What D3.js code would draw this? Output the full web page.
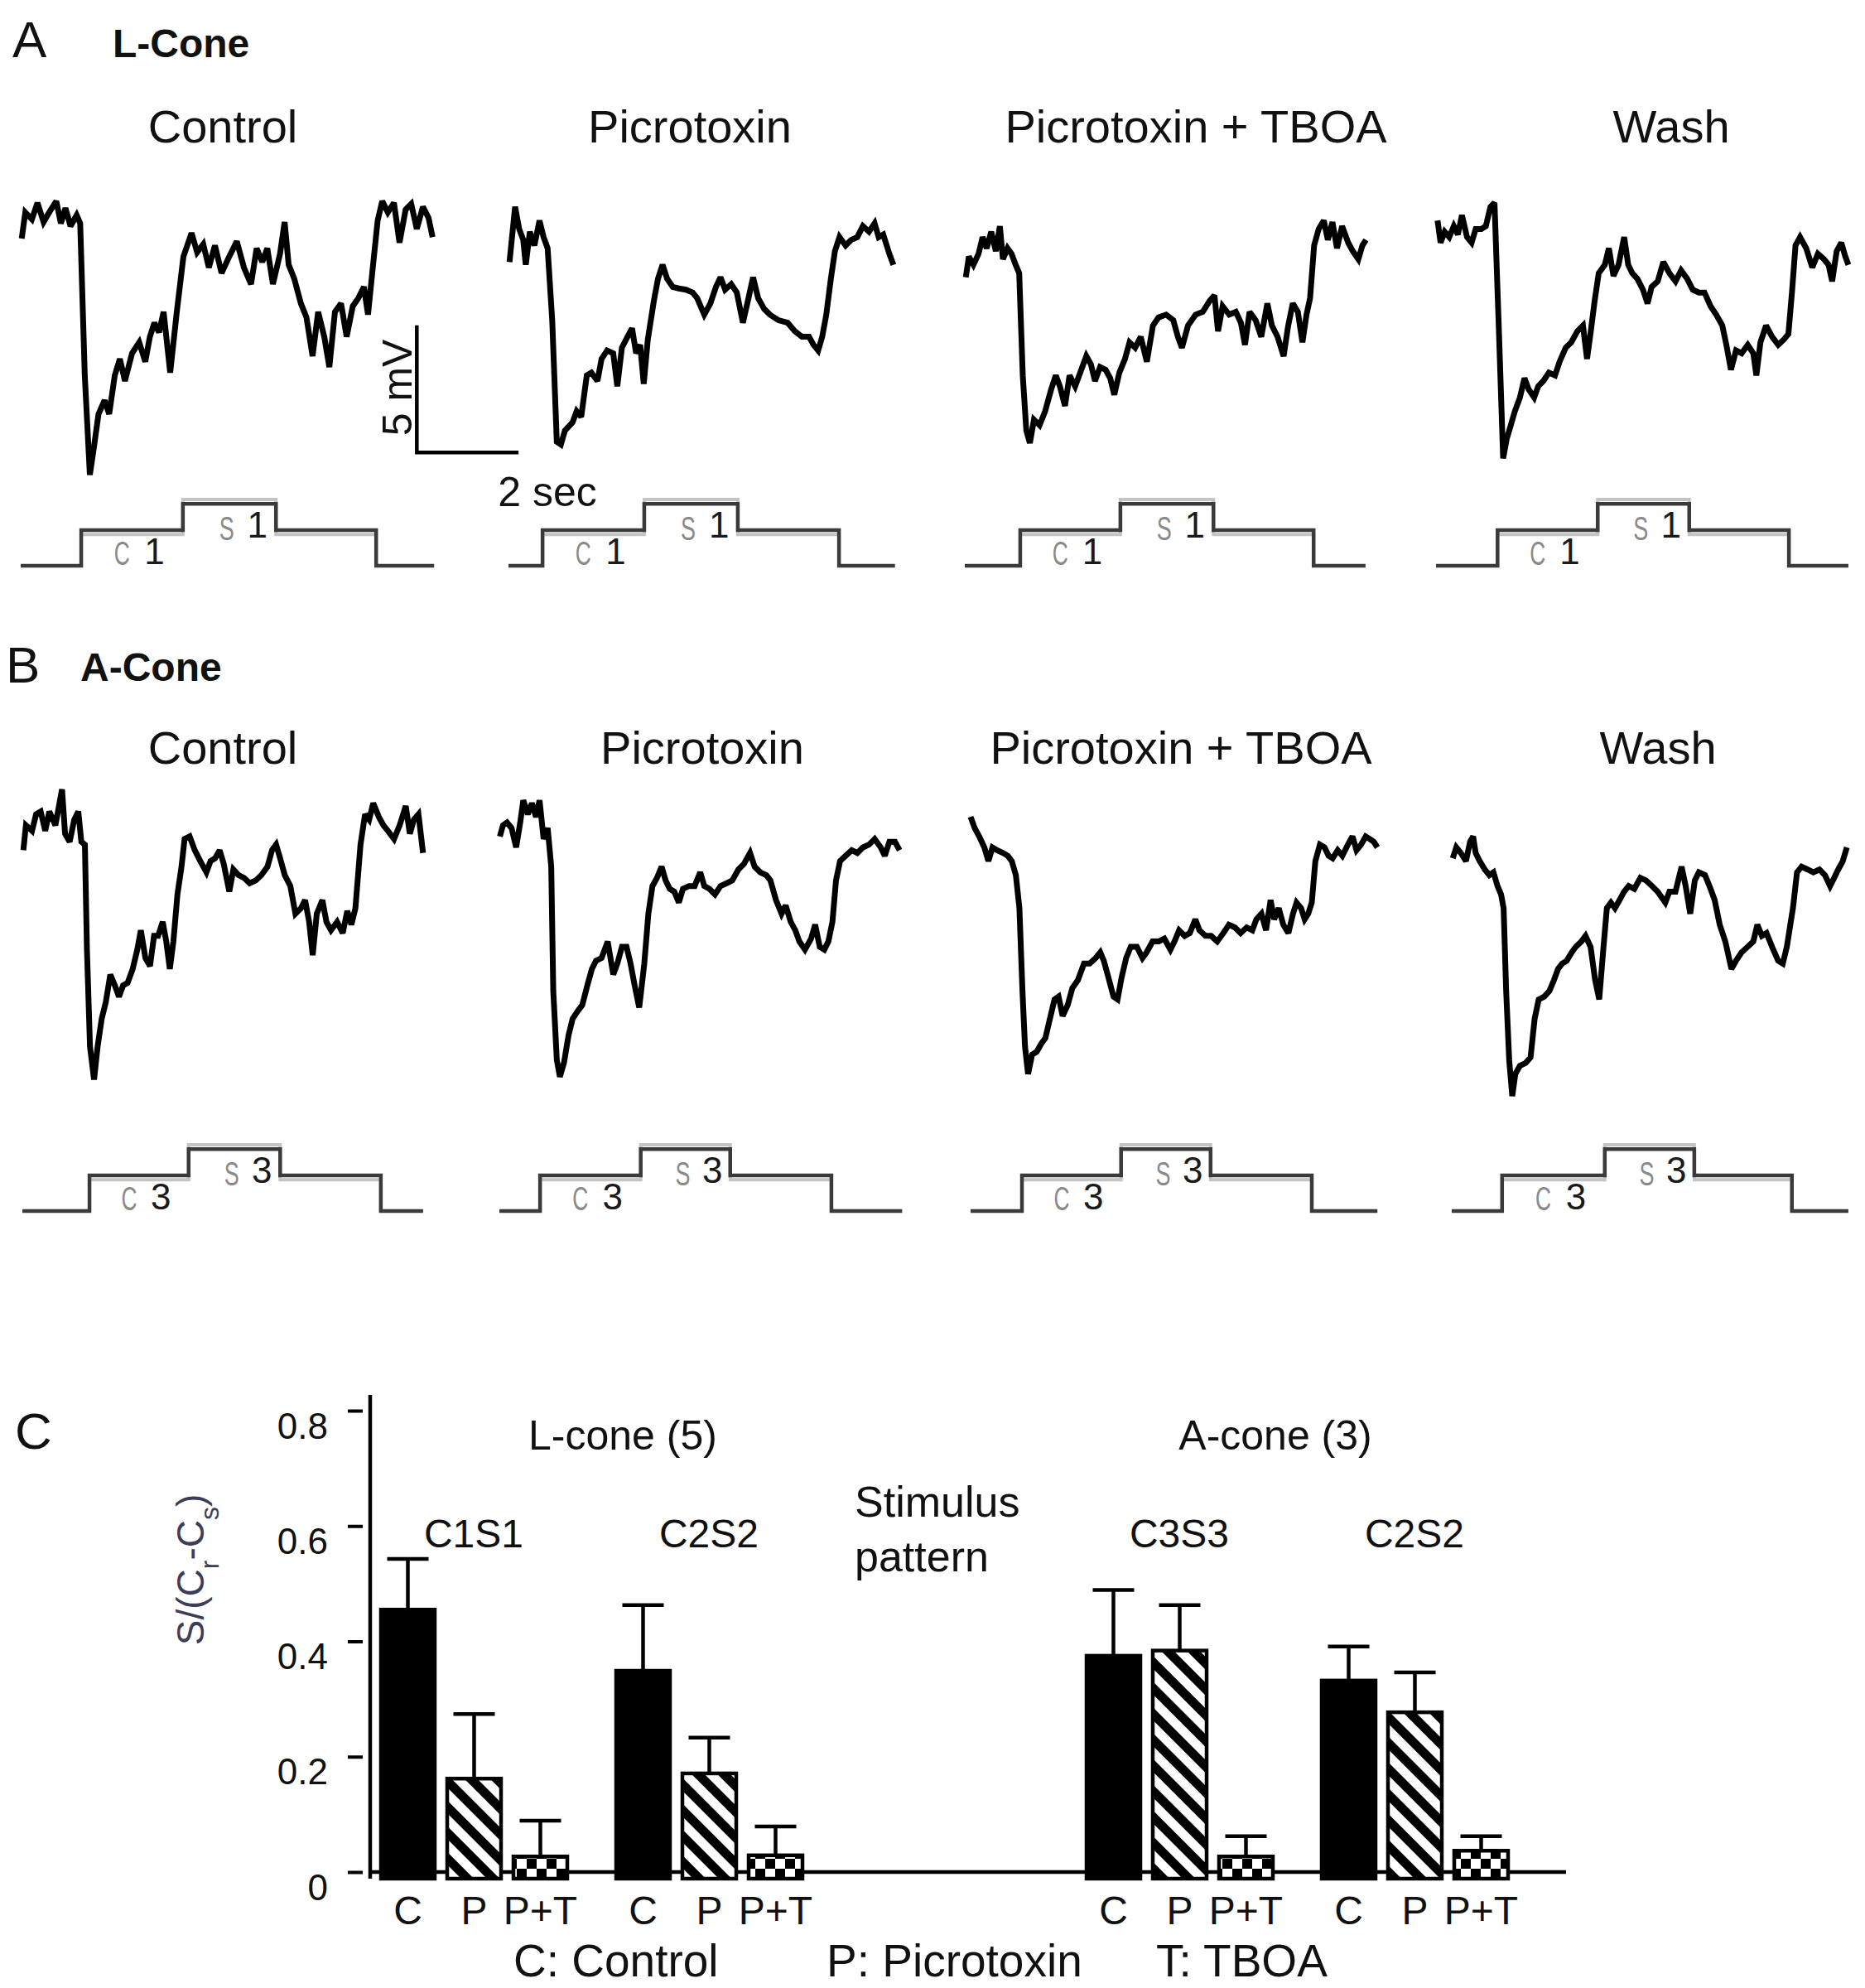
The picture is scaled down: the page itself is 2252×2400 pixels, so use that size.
<!DOCTYPE html>
<html><head><meta charset="utf-8">
<script src="https://cdn.jsdelivr.net/npm/d3@7"></script>
<style>
html,body{margin:0;padding:0;background:#fff;}
svg{display:block;}
text{font-family:"Liberation Sans", Arial, sans-serif;}
</style></head><body>
<svg id="chart" width="2252" height="2400"></svg>
<script>
// ---------------- DATA ----------------
const conditionTitles = ["Control", "Picrotoxin", "Picrotoxin + TBOA", "Wash"];

// Voltage traces: [time (s), membrane potential (mV, relative)]
const lConeControl = [[0.02,9.51],[0.09,10.54],[0.22,10.27],[0.33,10.92],[0.45,10.16],[0.56,10.54],[0.70,10.98],[0.79,10.11],[0.88,10.71],[0.98,10.0],[1.10,10.43],[1.17,10.11],[1.26,4.13],[1.36,0.22],[1.44,1.30],[1.53,2.61],[1.65,3.15],[1.74,2.61],[1.85,4.13],[1.95,4.78],[2.05,3.91],[2.19,5.0],[2.33,5.43],[2.45,4.67],[2.54,5.65],[2.63,6.20],[2.72,5.82],[2.81,6.63],[2.94,4.24],[3.07,6.63],[3.20,8.80],[3.36,9.73],[3.47,8.97],[3.59,9.29],[3.70,8.37],[3.82,9.24],[3.95,8.15],[4.10,8.80],[4.25,9.40],[4.39,8.37],[4.53,7.72],[4.64,9.13],[4.75,8.59],[4.85,9.13],[4.96,7.72],[5.10,8.91],[5.19,10.16],[5.27,8.48],[5.38,7.93],[5.51,6.96],[5.62,6.41],[5.74,4.89],[5.85,6.63],[5.97,5.65],[6.07,4.46],[6.18,6.63],[6.30,6.96],[6.41,5.65],[6.53,6.85],[6.64,7.17],[6.75,7.61],[6.83,6.52],[6.93,8.48],[7.02,10.22],[7.11,10.98],[7.22,10.54],[7.34,10.92],[7.45,9.35],[7.57,10.65],[7.68,10.87],[7.79,9.89],[7.91,10.76],[8.02,10.33],[8.10,9.57]];
const lConePicrotoxin = [[0.02,8.59],[0.13,10.76],[0.21,9.89],[0.29,9.46],[0.34,8.48],[0.42,9.78],[0.51,9.24],[0.61,10.22],[0.69,9.57],[0.77,9.13],[0.86,6.30],[0.95,1.52],[1.03,1.41],[1.11,1.96],[1.26,2.28],[1.34,2.72],[1.43,2.50],[1.54,4.13],[1.63,4.24],[1.75,3.91],[1.83,4.78],[1.94,5.11],[2.06,5.0],[2.14,3.70],[2.23,5.22],[2.34,5.65],[2.43,5.98],[2.51,5.0],[2.59,5.33],[2.66,3.80],[2.74,5.54],[2.86,7.07],[2.94,7.93],[3.03,8.48],[3.12,7.93],[3.23,7.61],[3.35,7.55],[3.49,7.50],[3.62,7.39],[3.71,7.17],[3.85,6.52],[3.97,6.96],[4.08,7.61],[4.17,7.99],[4.26,7.50],[4.38,7.72],[4.49,7.39],[4.61,6.20],[4.72,7.17],[4.81,7.99],[4.91,7.17],[5.03,6.74],[5.14,6.52],[5.31,6.30],[5.49,6.20],[5.63,5.87],[5.77,5.65],[5.91,5.65],[6.0,5.33],[6.09,5.11],[6.17,5.65],[6.25,6.52],[6.34,7.93],[6.42,9.02],[6.51,9.57],[6.63,9.24],[6.74,9.46],[6.86,9.57],[6.97,10.0],[7.09,9.78],[7.20,10.11],[7.28,9.57],[7.37,9.67],[7.49,8.91],[7.57,8.48]];
const lConePicroTBOA = [[0.02,7.99],[0.08,8.80],[0.17,8.48],[0.27,8.91],[0.35,9.57],[0.43,9.13],[0.52,9.78],[0.61,9.02],[0.69,10.0],[0.75,8.70],[0.84,9.13],[0.92,8.91],[1.00,8.48],[1.07,8.15],[1.14,4.13],[1.21,1.96],[1.28,1.47],[1.36,2.39],[1.47,2.17],[1.58,2.72],[1.70,3.59],[1.79,4.13],[1.87,3.70],[1.97,2.93],[2.06,4.13],[2.17,3.70],[2.29,4.35],[2.39,4.89],[2.48,4.57],[2.56,3.91],[2.66,4.46],[2.77,4.35],[2.86,4.02],[2.94,3.37],[3.04,4.24],[3.15,4.78],[3.24,5.43],[3.35,5.22],[3.46,5.65],[3.58,4.67],[3.70,6.09],[3.81,6.41],[3.96,6.52],[4.10,6.30],[4.19,5.65],[4.27,5.22],[4.39,6.09],[4.54,6.52],[4.68,6.63],[4.82,7.07],[4.91,7.28],[4.98,5.87],[5.07,6.85],[5.20,6.52],[5.33,6.63],[5.43,6.20],[5.51,5.33],[5.60,6.63],[5.72,6.30],[5.83,5.65],[5.95,6.96],[6.04,6.09],[6.15,5.65],[6.27,4.89],[6.36,6.09],[6.45,6.96],[6.55,6.63],[6.64,5.43],[6.72,6.52],[6.79,7.17],[6.87,9.24],[6.96,9.89],[7.06,10.22],[7.14,9.46],[7.23,10.16],[7.32,9.13],[7.42,10.0],[7.54,9.35],[7.63,9.02],[7.74,8.70],[7.82,9.24],[7.89,9.46]];
const lConeWash = [[0.03,10.22],[0.09,9.35],[0.17,9.78],[0.26,9.57],[0.35,10.0],[0.43,9.67],[0.51,10.43],[0.61,9.57],[0.70,9.35],[0.78,9.89],[0.89,9.89],[0.98,10.0],[1.07,10.76],[1.15,10.92],[1.23,6.30],[1.32,0.87],[1.39,1.63],[1.47,2.17],[1.55,2.72],[1.65,3.26],[1.74,4.02],[1.82,3.59],[1.93,3.26],[2.01,3.70],[2.11,3.91],[2.22,4.24],[2.34,4.13],[2.43,4.67],[2.55,5.22],[2.66,5.43],[2.78,5.87],[2.89,6.09],[2.97,4.78],[3.03,5.65],[3.12,7.07],[3.20,8.15],[3.32,8.48],[3.40,9.13],[3.49,8.04],[3.59,8.48],[3.70,9.57],[3.78,8.48],[3.86,8.15],[3.96,7.93],[4.07,7.50],[4.16,6.96],[4.24,7.61],[4.36,7.83],[4.47,8.59],[4.59,8.15],[4.71,7.83],[4.82,8.26],[4.94,7.93],[5.05,7.50],[5.17,7.39],[5.28,7.39],[5.40,6.85],[5.51,6.52],[5.63,6.09],[5.71,5.33],[5.80,4.35],[5.90,5.11],[6.01,5.0],[6.13,5.33],[6.24,5.0],[6.30,4.13],[6.38,5.43],[6.49,6.09],[6.61,5.65],[6.73,5.33],[6.84,5.54],[6.93,5.76],[7.0,7.39],[7.07,9.24],[7.16,9.57],[7.28,9.13],[7.40,8.37],[7.51,8.91],[7.63,8.70],[7.72,8.48],[7.79,7.83],[7.88,9.02],[7.97,9.35],[8.05,8.80],[8.11,8.48]];

const aConeControl = [[0.02,9.89],[0.07,10.87],[0.19,10.65],[0.27,11.30],[0.36,11.41],[0.45,10.65],[0.53,11.41],[0.65,10.87],[0.73,11.74],[0.78,12.28],[0.84,10.54],[0.93,10.22],[1.02,11.09],[1.10,11.41],[1.16,10.22],[1.23,10.11],[1.27,5.98],[1.33,2.17],[1.41,0.87],[1.48,2.17],[1.56,3.26],[1.64,3.91],[1.73,5.0],[1.82,4.57],[1.90,4.13],[1.98,4.57],[2.07,4.67],[2.17,5.22],[2.26,5.98],[2.33,6.74],[2.42,5.65],[2.51,5.33],[2.59,6.52],[2.67,6.52],[2.76,7.07],[2.83,6.30],[2.90,5.22],[2.97,6.30],[3.05,8.15],[3.13,9.24],[3.19,10.33],[3.29,10.43],[3.39,9.89],[3.50,9.46],[3.62,9.02],[3.70,9.46],[3.79,9.57],[3.88,9.89],[3.96,9.35],[4.07,8.26],[4.15,9.13],[4.25,8.91],[4.36,8.80],[4.47,8.59],[4.59,8.70],[4.70,8.91],[4.82,9.24],[4.91,9.89],[4.99,10.11],[5.07,9.57],[5.16,8.91],[5.27,8.48],[5.37,7.39],[5.48,7.61],[5.56,7.93],[5.64,7.07],[5.71,5.76],[5.79,7.39],[5.90,7.93],[5.98,7.07],[6.07,6.74],[6.19,7.07],[6.30,6.63],[6.39,7.50],[6.47,6.96],[6.55,7.61],[6.65,10.11],[6.74,11.30],[6.82,11.09],[6.90,11.74],[7.01,11.20],[7.10,10.87],[7.19,10.65],[7.31,10.33],[7.42,10.87],[7.54,11.63],[7.62,10.54],[7.70,11.09],[7.79,11.30],[7.88,9.78]];
const aConePicrotoxin = [[0.01,10.43],[0.07,10.87],[0.15,10.98],[0.24,10.76],[0.33,10.0],[0.41,10.98],[0.47,11.85],[0.56,11.30],[0.64,11.74],[0.72,11.20],[0.79,11.85],[0.87,10.33],[0.95,10.76],[1.02,9.24],[1.06,4.35],[1.13,1.63],[1.19,0.98],[1.27,1.52],[1.36,2.61],[1.44,3.26],[1.55,3.59],[1.63,3.80],[1.73,4.57],[1.82,5.22],[1.90,5.54],[2.01,5.65],[2.13,6.30],[2.24,5.0],[2.32,5.43],[2.41,6.09],[2.50,6.09],[2.58,5.43],[2.66,4.57],[2.75,3.70],[2.85,5.43],[2.93,7.39],[3.01,8.48],[3.10,8.80],[3.19,9.24],[3.27,8.70],[3.35,8.37],[3.44,8.26],[3.53,7.83],[3.61,8.37],[3.73,8.48],[3.84,8.48],[3.95,9.02],[4.03,8.48],[4.13,8.37],[4.24,8.15],[4.35,8.48],[4.47,8.59],[4.58,8.70],[4.70,9.13],[4.81,9.35],[4.93,9.78],[5.02,9.24],[5.13,9.02],[5.25,8.91],[5.33,8.70],[5.44,7.93],[5.55,7.39],[5.63,7.72],[5.73,7.07],[5.82,6.74],[5.90,6.30],[6.01,5.98],[6.13,6.41],[6.21,6.96],[6.30,6.09],[6.39,5.98],[6.47,6.30],[6.55,7.07],[6.62,8.70],[6.70,9.46],[6.81,9.67],[6.93,9.89],[7.04,9.78],[7.15,10.0],[7.27,10.11],[7.38,10.33],[7.50,10.0],[7.58,9.67],[7.67,10.22],[7.78,10.22],[7.87,9.89]];
const aConePicroTBOA = [[0.0,11.20],[0.08,10.76],[0.17,10.43],[0.27,10.0],[0.35,9.46],[0.43,10.0],[0.52,9.89],[0.64,9.78],[0.73,9.67],[0.81,9.46],[0.89,8.91],[0.96,7.61],[1.02,4.35],[1.07,2.17],[1.13,1.09],[1.21,1.85],[1.30,1.96],[1.39,2.28],[1.47,2.50],[1.56,3.26],[1.65,4.02],[1.73,4.13],[1.81,3.37],[1.91,3.80],[2.0,4.46],[2.11,4.78],[2.23,5.43],[2.34,5.43],[2.46,5.65],[2.55,5.87],[2.62,5.54],[2.71,4.89],[2.81,4.13],[2.89,4.02],[2.97,4.89],[3.06,5.65],[3.15,6.09],[3.27,6.09],[3.38,5.65],[3.46,5.87],[3.58,6.30],[3.70,6.30],[3.81,6.41],[3.93,5.98],[4.01,6.30],[4.10,6.74],[4.21,6.52],[4.31,6.63],[4.42,7.17],[4.50,6.74],[4.62,6.52],[4.73,6.52],[4.85,6.30],[4.97,6.63],[5.08,6.96],[5.20,6.85],[5.31,6.63],[5.43,6.85],[5.54,6.74],[5.62,7.17],[5.72,7.39],[5.81,6.74],[5.90,7.93],[5.97,7.17],[6.06,7.61],[6.15,6.96],[6.25,6.63],[6.34,7.39],[6.41,7.83],[6.50,7.61],[6.57,7.17],[6.64,7.39],[6.71,7.83],[6.78,9.46],[6.87,10.11],[6.96,10.0],[7.04,9.67],[7.12,9.57],[7.22,9.89],[7.31,9.67],[7.42,10.11],[7.51,10.43],[7.59,9.89],[7.68,10.11],[7.77,10.43],[7.85,10.33],[7.93,10.22],[8.0,10.0]];
const aConeWash = [[0.02,9.57],[0.09,10.0],[0.18,9.78],[0.28,9.46],[0.36,10.22],[0.42,10.43],[0.47,9.78],[0.55,9.46],[0.65,9.13],[0.74,8.91],[0.82,9.02],[0.90,8.48],[0.97,8.15],[1.02,7.61],[1.07,4.35],[1.13,1.63],[1.19,0.22],[1.25,1.09],[1.34,1.41],[1.45,1.52],[1.55,1.74],[1.63,3.26],[1.71,4.02],[1.82,4.13],[1.92,4.35],[2.01,4.78],[2.09,5.22],[2.17,5.43],[2.26,5.54],[2.36,5.87],[2.44,6.09],[2.55,6.30],[2.63,6.52],[2.73,6.09],[2.82,4.78],[2.90,4.02],[2.98,5.98],[3.05,7.61],[3.13,7.83],[3.21,7.61],[3.30,7.93],[3.39,8.26],[3.48,8.48],[3.59,8.37],[3.71,8.80],[3.82,8.70],[3.94,8.48],[4.05,8.26],[4.20,7.83],[4.28,8.26],[4.40,8.26],[4.52,9.24],[4.60,8.48],[4.69,7.39],[4.78,8.70],[4.86,9.02],[4.98,8.91],[5.09,8.37],[5.17,7.93],[5.27,6.96],[5.38,6.30],[5.50,5.22],[5.59,5.54],[5.70,5.87],[5.82,6.09],[5.93,6.30],[6.01,6.96],[6.10,6.52],[6.19,6.63],[6.30,6.09],[6.42,5.54],[6.51,5.43],[6.59,6.09],[6.71,7.61],[6.79,9.02],[6.88,9.24],[7.0,9.13],[7.11,9.02],[7.23,9.13],[7.34,8.91],[7.44,8.48],[7.52,8.80],[7.60,9.13],[7.69,9.46],[7.77,10.0]];

// Stimulus timing per panel: [C on, S on, S off, C off, end] (s)
const lConeStimTimes = [[1.19,3.19,5.02,6.99,8.13],[0.67,2.67,4.51,6.50,7.60],[1.09,3.06,4.89,6.86,7.88],[1.21,3.18,4.98,6.94,8.11]];
const aConeStimTimes = [[1.32,3.27,5.07,7.05,7.88],[0.80,2.78,4.54,6.53,7.92],[1.01,2.96,4.72,6.71,8.00],[0.99,3.01,4.77,6.69,7.80]];
const stimLevels = [0, 1, 1.74, 1, 0, 0];
const stimShadowLevels = [0, 0.88, 1.86, 0.88, 0, 0];

// Panel C bar chart
const conditions = ["C", "P", "P+T"];
const groupIds = ["L-C1S1", "L-C2S2", "gap", "A-C3S3", "A-C2S2"];
const groupLabels = ["C1S1", "C2S2", "", "C3S3", "C2S2"];
const lConeC1S1Mean = [0.455, 0.162, 0.027];
const lConeC1S1Err  = [0.088, 0.112, 0.062];
const lConeC2S2Mean = [0.349, 0.171, 0.029];
const lConeC2S2Err  = [0.114, 0.062, 0.050];
const aConeC3S3Mean = [0.375, 0.384, 0.027];
const aConeC3S3Err  = [0.114, 0.079, 0.035];
const aConeC2S2Mean = [0.332, 0.277, 0.037];
const aConeC2S2Err  = [0.059, 0.069, 0.025];
const yTicks = [0, 0.2, 0.4, 0.6, 0.8];
const yTickLabels = ["0", "0.2", "0.4", "0.6", "0.8"];
const legendItems = ["C: Control", "P: Picrotoxin", "T: TBOA"];

// ---------------- DRAW ----------------
const svg = d3.select("#chart");
const PX_PER_S = 61.4, PX_PER_MV = 30.7;
const INK = "#111";

const defs = svg.append("defs");
const hatch = defs.append("pattern").attr("id","hatch").attr("patternUnits","userSpaceOnUse")
  .attr("width",22).attr("height",22).attr("patternTransform","rotate(-45)");
hatch.append("rect").attr("width",22).attr("height",22).attr("fill","#fff");
hatch.append("rect").attr("width",11).attr("height",22).attr("fill","#000");
const check = defs.append("pattern").attr("id","check").attr("patternUnits","userSpaceOnUse")
  .attr("width",24).attr("height",24);
check.append("rect").attr("width",24).attr("height",24).attr("fill","#fff");
check.append("rect").attr("x",0).attr("y",0).attr("width",12).attr("height",12).attr("fill","#000");
check.append("rect").attr("x",12).attr("y",12).attr("width",12).attr("height",12).attr("fill","#000");

function txt(x, y, s, size, opts = {}) {
  const t = svg.append("text").attr("x", x).attr("y", y).attr("font-size", size)
    .attr("fill", opts.fill || INK).attr("text-anchor", opts.anchor || "start").text(s);
  if (opts.weight) t.attr("font-weight", opts.weight);
  return t;
}

// Panel headers
txt(15, 69, "A", 62);
txt(136, 69, "L-Cone", 48, {weight: "bold"});
txt(7, 824, "B", 62);
txt(97, 822, "A-Cone", 48, {weight: "bold"});
txt(18, 1749, "C", 62);

const rows = [
  { traces: [lConeControl, lConePicrotoxin, lConePicroTBOA, lConeWash], stim: lConeStimTimes,
    x0: [25, 614, 1165, 1734], base: 580, stimBase: 683, titleY: 172,
    titleX: [269, 833, 1444, 2018], digit: "1" },
  { traces: [aConeControl, aConePicrotoxin, aConePicroTBOA, aConeWash], stim: aConeStimTimes,
    x0: [27, 603, 1172, 1753], base: 1330, stimBase: 1462, titleY: 922,
    titleX: [269, 848, 1426, 2002], digit: "3" }
];

rows.forEach((row, ri) => {
  row.traces.forEach((data, i) => {
    txt(row.titleX[i], row.titleY, conditionTitles[i], 56, {anchor: "middle"});
    const times = row.stim[i];
    const end = times[4];
    const x = d3.scaleLinear().domain([0, end]).range([row.x0[i], row.x0[i] + end * PX_PER_S]);
    const y = d3.scaleLinear().domain([0, 10]).range([row.base, row.base - 10 * PX_PER_MV]);
    svg.append("path").datum(data)
      .attr("d", d3.line().x(d => x(d[0])).y(d => y(d[1])))
      .attr("fill", "none").attr("stroke", "#000").attr("stroke-width", 7)
      .attr("stroke-linejoin", "miter").attr("stroke-miterlimit", 2.5);

    // stimulus
    const ys = d3.scaleLinear().domain([0, 1]).range([row.stimBase, row.stimBase - 43]);
    const tt = [0, ...times];
    const stepLine = d3.line().curve(d3.curveStepAfter).x(d => x(d[0])).y(d => ys(d[1]));
    svg.append("path").datum(tt.map((t, k) => [t, stimShadowLevels[k]]))
      .attr("d", stepLine).attr("fill", "none").attr("stroke", "#c4c4c4").attr("stroke-width", 4);
    svg.append("path").datum(tt.map((t, k) => [t, stimLevels[k]]))
      .attr("d", stepLine).attr("fill", "none").attr("stroke", "#3a3a3a").attr("stroke-width", 4.5);

    const [r1, r2, f2] = times;
    txt(x(r1 + 0.40 * (r2 - r1)), ys(0) - 1, "C", 40, {anchor: "middle", fill: "#8a8a8a"})
      .attr("textLength", 19).attr("lengthAdjust", "spacingAndGlyphs");
    txt(x(r1 + 0.72 * (r2 - r1)), ys(0) - 2, row.digit, 44, {anchor: "middle", fill: "#1a1a1a"});
    txt(x(r2 + 0.47 * (f2 - r2)), ys(0.72), "S", 40, {anchor: "middle", fill: "#8a8a8a"})
      .attr("textLength", 18).attr("lengthAdjust", "spacingAndGlyphs");
    txt(x(r2 + 0.80 * (f2 - r2)), ys(0.78), row.digit, 44, {anchor: "middle", fill: "#1a1a1a"});

    // scale bar (row A, first panel)
    if (ri === 0 && i === 0) {
      const t0 = 7.79, v0 = 1.1;
      svg.append("path")
        .attr("d", `M${x(t0)},${y(v0 + 5)}V${y(v0)}H${x(t0 + 2)}`)
        .attr("fill", "none").attr("stroke", "#000").attr("stroke-width", 4.5);
      txt(0, 0, "5 mV", 50, {anchor: "middle"})
        .attr("transform", `translate(${x(t0) - 6},${y(v0 + 2.55)}) rotate(-90)`);
      txt(x(t0 + 2.57), y(-1.0), "2 sec", 50, {anchor: "middle"});
    }
  });
});

// ---------------- Panel C ----------------
const yC = d3.scaleLinear().domain([0, 0.8]).range([2260, 1703]);
const outer = d3.scaleBand().domain(groupIds).range([460, 460 + 5 * 284]);
const inner = d3.scaleBand().domain(conditions).range([0, 225]).paddingInner(0.1875);

// y axis
svg.append("line").attr("x1", 447).attr("x2", 447).attr("y1", 1684).attr("y2", 2268)
  .attr("stroke", "#000").attr("stroke-width", 4.5);
const yAxis = d3.axisLeft(yC).tickValues(yTicks).tickSize(18).tickPadding(24)
  .tickFormat((d, i) => yTickLabels[i]);
const gAx = svg.append("g").attr("transform", "translate(438,0)").call(yAxis);
gAx.select(".domain").remove();
gAx.selectAll(".tick line").attr("stroke", "#000").attr("stroke-width", 4);
gAx.selectAll(".tick text").attr("font-size", 44).attr("fill", INK)
  .attr("font-family", '"Liberation Sans", Arial, sans-serif')
  .attr("dy", null).attr("y", 33);

// baseline
svg.append("line").attr("x1", 447).attr("x2", 1891).attr("y1", yC(0)).attr("y2", yC(0))
  .attr("stroke", "#000").attr("stroke-width", 4.5);

// y label
const yl = svg.append("text").attr("transform", "translate(246,1895) rotate(-90)")
  .attr("text-anchor", "middle").attr("font-size", 46).attr("fill", "#3d3d58");
yl.append("tspan").text("S/(C");
yl.append("tspan").attr("baseline-shift", "sub").attr("font-size", 32).text("r");
yl.append("tspan").text("-C");
yl.append("tspan").attr("baseline-shift", "sub").attr("font-size", 32).text("s");
yl.append("tspan").text(")");

const barSets = [
  ["L-C1S1", lConeC1S1Mean, lConeC1S1Err],
  ["L-C2S2", lConeC2S2Mean, lConeC2S2Err],
  ["A-C3S3", aConeC3S3Mean, aConeC3S3Err],
  ["A-C2S2", aConeC2S2Mean, aConeC2S2Err]
];
const fills = {"C": "#000", "P": "url(#hatch)", "P+T": "url(#check)"};
barSets.forEach(([g, means, errs]) => {
  conditions.forEach((c, k) => {
    const bx = outer(g) + inner(c), bw = inner.bandwidth(), cx = bx + bw / 2;
    svg.append("line").attr("x1", cx).attr("x2", cx)
      .attr("y1", yC(means[k])).attr("y2", yC(means[k] + errs[k]))
      .attr("stroke", "#000").attr("stroke-width", 4.5);
    svg.append("line").attr("x1", cx - 25).attr("x2", cx + 25)
      .attr("y1", yC(means[k] + errs[k])).attr("y2", yC(means[k] + errs[k]))
      .attr("stroke", "#000").attr("stroke-width", 4.5);
    svg.append("rect").attr("x", bx).attr("y", yC(means[k]))
      .attr("width", bw).attr("height", yC(0) + 8 - yC(means[k]))
      .attr("fill", fills[c]).attr("stroke", "#000").attr("stroke-width", 4.5);
    txt(cx, 2323, c, 48, {anchor: "middle"});
  });
});
groupIds.forEach((g, i) => {
  if (groupLabels[i]) txt(outer(g) + 112, 1868, groupLabels[i], 48, {anchor: "middle"});
});

txt(752, 1750, "L-cone (5)", 50, {anchor: "middle"});
txt(1540, 1750, "A-cone (3)", 50, {anchor: "middle"});
txt(1032, 1831, "Stimulus", 52);
txt(1032, 1897, "pattern", 52);

const legendX = [620, 998, 1396];
legendItems.forEach((s, i) => txt(legendX[i], 2386, s, 55));
</script></body></html>
